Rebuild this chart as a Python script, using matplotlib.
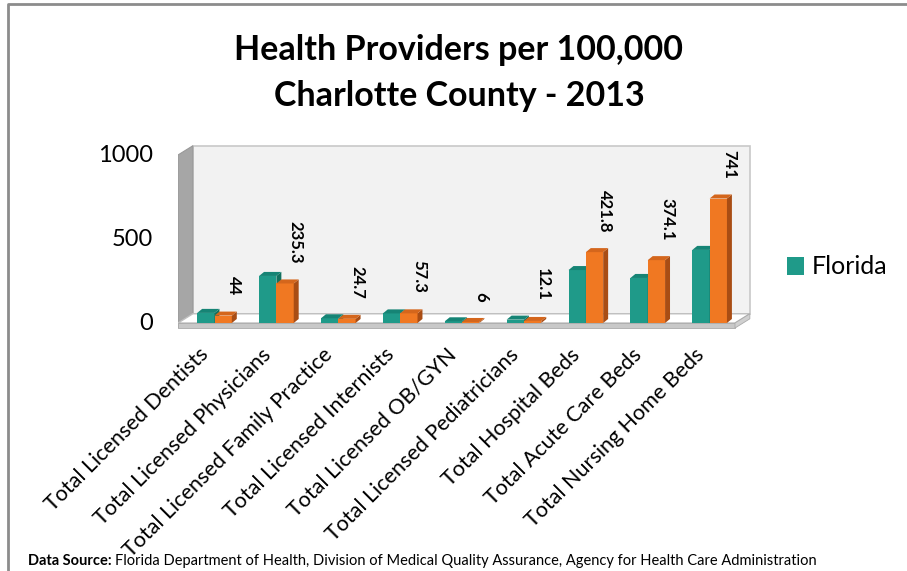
import matplotlib.pyplot as plt
from matplotlib.patches import Polygon, Patch
from matplotlib.lines import Line2D

plt.rcParams['font.family'] = ['Lato', 'DejaVu Sans']

# Data
categories = ['Total Licensed Dentists', 'Total Licensed Physicians',
              'Total Licensed Family Practice', 'Total Licensed Internists',
              'Total Licensed OB/GYN', 'Total Licensed Pediatricians',
              'Total Hospital Beds', 'Total Acute Care Beds',
              'Total Nursing Home Beds']
florida = [60, 280, 28, 57, 10, 20, 315, 268, 435]
charlotte = [44, 235.3, 24.7, 57.3, 6, 12.1, 421.8, 374.1, 741]
yticks = [0, 500, 1000]

W, H = 907, 571
fig = plt.figure(figsize=(W / 100, H / 100), dpi=100)

# axes placed so that x=-0.5 -> 178px, x=8.5 -> 735px, y=0 -> 323px, y=1000 -> 155px
px_x = (735 - 178) / 9.0
px_y = (323 - 155) / 1000.0
xmin, xmax = -0.5, 8.8
ymin, ymax = -40, 1080
left = 178 - (-0.5 - xmin) * px_x
bottom_px = 323 + (0 - ymin) * px_y
ax = fig.add_axes([left / W, (H - bottom_px) / H,
                   (xmax - xmin) * px_x / W, (ymax - ymin) * px_y / H])
ax.set_xlim(xmin, xmax)
ax.set_ylim(ymin, ymax)
ax.axis('off')

D, DY = 0.24, 55      # depth offset of the back wall
T = 30                # floor / wall thickness
n = len(categories)
x0, x1 = -0.5, n - 0.5

# back wall
ax.add_patch(Polygon([(x0 + D, DY), (x1 + D, DY), (x1 + D, 1000 + DY), (x0 + D, 1000 + DY)],
                     closed=True, facecolor='#f2f2f2', edgecolor='#c8c8c8', lw=1.2, zorder=1))
# left wall
ax.add_patch(Polygon([(x0, -T), (x0, 1000), (x0 + D, 1000 + DY), (x0 + D, DY)],
                     closed=True, facecolor='#a6a6a6', edgecolor='#999999', lw=0.8, zorder=2))
# floor
ax.add_patch(Polygon([(x0, 0), (x1, 0), (x1 + D, DY), (x0 + D, DY)],
                     closed=True, facecolor='white', edgecolor='#bfbfbf', lw=1.0, zorder=2))
ax.add_patch(Polygon([(x0, -T), (x1, -T), (x1, 0), (x0, 0)],
                     closed=True, facecolor='#c8c8c8', edgecolor='#aaaaaa', lw=0.6, zorder=2))
ax.add_patch(Polygon([(x1, -T), (x1 + D, DY - T), (x1 + D, DY), (x1, 0)],
                     closed=True, facecolor='#d0d0d0', edgecolor='#aaaaaa', lw=0.6, zorder=2))

bw, bd, bdy = 0.28, 0.08, 24


def bar3d(xl, h, front, side, top, z):
    ax.add_patch(Polygon([(xl, 0), (xl + bw, 0), (xl + bw, h), (xl, h)],
                         closed=True, facecolor=front, edgecolor='none', zorder=z))
    ax.add_patch(Polygon([(xl + bw, 0), (xl + bw + bd, bdy), (xl + bw + bd, h + bdy), (xl + bw, h)],
                         closed=True, facecolor=side, edgecolor='none', zorder=z))
    ax.add_patch(Polygon([(xl, h), (xl + bw, h), (xl + bw + bd, h + bdy), (xl + bd, h + bdy)],
                         closed=True, facecolor=top, edgecolor='none', zorder=z))


for i in range(n):
    bar3d(i - 0.19, florida[i], '#1f9a89', '#12705f', '#168475', 3 + 2 * i)
    bar3d(i + 0.09, charlotte[i], '#f07822', '#a94d14', '#d4661c', 4 + 2 * i)
    ax.annotate(f'{charlotte[i]:g}', (i + 0.09 + bw, charlotte[i]),
                xytext=(2, 20), textcoords='offset pixels', rotation=270,
                ha='center', va='bottom', fontsize=12, fontweight='bold', zorder=30)
    ax.text(i - 0.05, -170, categories[i], rotation=45, rotation_mode='anchor',
            ha='right', va='center', fontsize=15.5)

for t in yticks:
    ax.text(-0.5 - 0.4, t, str(t), ha='right', va='center', fontsize=17)

# legend
fig.legend(handles=[Patch(facecolor='#1f9a89', edgecolor='none', label='Florida')],
           loc='center left', bbox_to_anchor=(764 / W, 1 - 267 / H), frameon=False,
           fontsize=18, handlelength=0.7, handleheight=0.7, handletextpad=0.3)

fig.text(459 / W, 1 - 50 / H, 'Health Providers per 100,000', ha='center', va='center',
         fontsize=24.5, fontweight='bold')
fig.text(459 / W, 1 - 96 / H, 'Charlotte County - 2013', ha='center', va='center',
         fontsize=24.5, fontweight='bold')

# source line
fig.canvas.draw()
src = fig.text(28 / W, 1 - 565 / H, 'Data Source:', ha='left', va='baseline',
               fontsize=10.5, fontweight='bold')
bb = src.get_window_extent(renderer=fig.canvas.get_renderer())
fig.text(bb.x1 / W + 0.004, 1 - 565 / H,
         'Florida Department of Health, Division of Medical Quality Assurance, Agency for Health Care Administration',
         ha='left', va='baseline', fontsize=10.5)

# chart frame (left and top)
fig.add_artist(Line2D([8 / W, 8 / W, 1], [0, 1 - 4 / H, 1 - 4 / H],
                      transform=fig.transFigure, color='#8c8c8c', lw=2))

fig.savefig('out.png', dpi=100)
